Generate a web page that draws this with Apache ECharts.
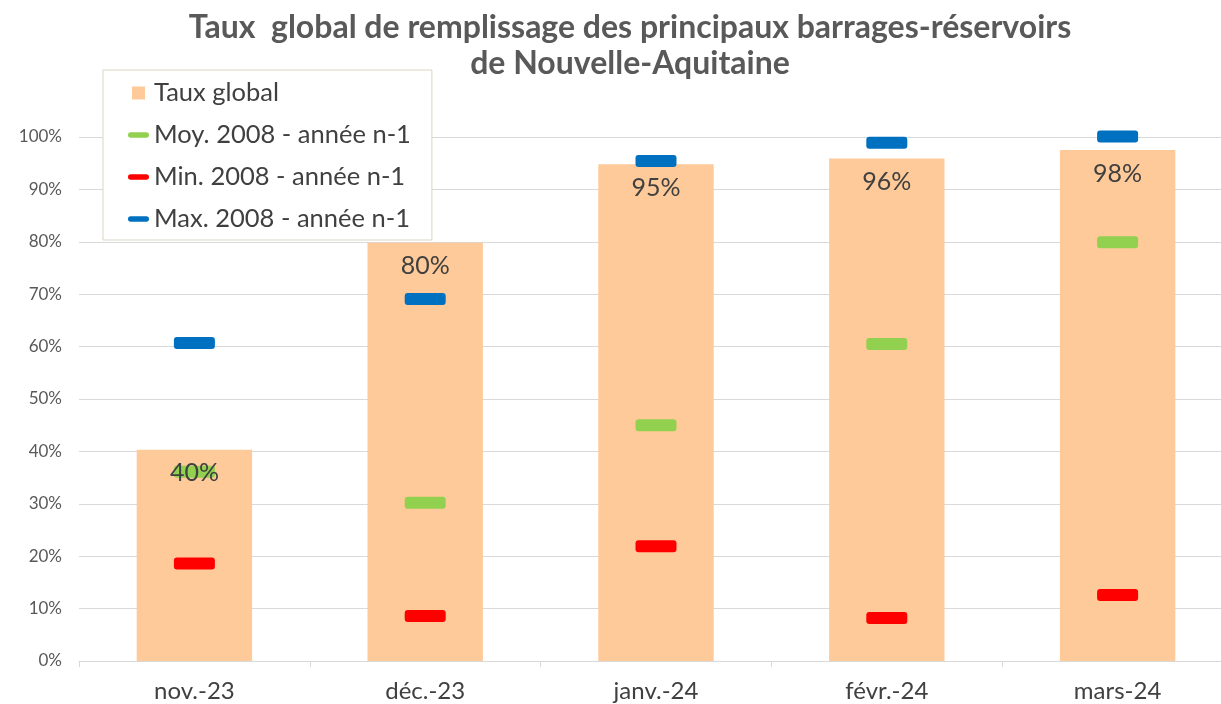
<!DOCTYPE html>
<html>
<head>
<meta charset="utf-8">
<script src="https://cdn.jsdelivr.net/npm/echarts@6/dist/echarts.min.js"></script>
<style>
html,body{margin:0;padding:0;background:#fff;}
#chart{width:1221px;height:704px;}
</style>
</head>
<body>
<div id="chart"></div>
<script>
const categories = ['nov.-23', 'déc.-23', 'janv.-24', 'févr.-24', 'mars-24'];
const tauxGlobal = [40.3, 79.8, 94.8, 95.9, 97.5];
const moyenne = [36.1, 30.2, 45.0, 60.5, 79.9];
const minimum = [18.6, 8.6, 21.9, 8.2, 12.6];
const maximum = [60.7, 69.1, 95.4, 98.9, 100.1];
const yTicks = [0, 10, 20, 30, 40, 50, 60, 70, 80, 90, 100];

const textColor = '#404040';
const font = 'Lato, "Open Sans", sans-serif';

const chart = echarts.init(document.getElementById('chart'), null, {renderer: 'canvas'});

const markerPath = 'path://M3,0h35a3,3 0 0 1 3,3v6a3,3 0 0 1 -3,3h-35a3,3 0 0 1 -3,-3v-6a3,3 0 0 1 3,-3z';
const legendLine = 'path://M0,0M2,3.5h17a2.5,2.5 0 0 1 0,6h-17a2.5,2.5 0 0 1 0,-6zM21,13';

function marker(name, data, color) {
  return {
    name: name,
    type: 'scatter',
    data: data,
    symbol: markerPath,
    symbolSize: [41, 12],
    clip: false,
    z: 4,
    itemStyle: {color: color, opacity: 1},
    emphasis: {disabled: true}
  };
}

const option = {
  backgroundColor: '#fff',
  animation: false,
  textStyle: {fontFamily: font},
  title: {
    text: 'Taux  global de remplissage des principaux barrages-réservoirs\nde Nouvelle-Aquitaine',
    left: 630,
    textAlign: 'center',
    top: 10,
    padding: 0,
    textStyle: {
      fontFamily: font,
      fontSize: 32,
      fontWeight: 'bold',
      color: '#595959',
      lineHeight: 36
    }
  },
  legend: {
    orient: 'vertical',
    left: 103,
    top: 70,
    backgroundColor: '#fff',
    borderColor: '#d9d5c3',
    borderWidth: 1,
    borderRadius: 0,
    padding: [10, 21, 8, 25],
    itemGap: 16,
    itemWidth: 21,
    itemHeight: 13,
    textStyle: {fontFamily: font, fontSize: 25.5, color: textColor},
    selectedMode: false,
    data: [
      {name: 'Taux global', icon: 'path://M0,0M4,0h13v13h-13zM21,13'},
      {name: 'Moy. 2008 - année n-1', icon: legendLine},
      {name: 'Min. 2008 - année n-1', icon: legendLine},
      {name: 'Max. 2008 - année n-1', icon: legendLine}
    ]
  },
  grid: {left: 79, width: 1154, top: 137, bottom: 43, containLabel: false, outerBoundsMode: 'none'},
  xAxis: {
    type: 'category',
    data: categories,
    axisLine: {lineStyle: {color: '#d9d9d9', width: 1}},
    axisTick: {show: true, length: 6, lineStyle: {color: '#d9d9d9'}},
    axisLabel: {fontFamily: font, fontSize: 24, color: textColor, margin: 18}
  },
  yAxis: {
    type: 'value',
    min: 0,
    max: 100,
    interval: 10,
    axisLine: {show: false},
    axisTick: {show: false},
    splitLine: {lineStyle: {color: '#d9d9d9', width: 1}},
    axisLabel: {
      fontFamily: font, fontSize: 17, color: '#595959', margin: 17,
      formatter: function (v) { return yTicks.indexOf(v) >= 0 ? v + '%' : ''; }
    }
  },
  series: [
    {
      name: 'Taux global',
      type: 'bar',
      data: tauxGlobal,
      barWidth: '50%',
      z: 2,
      itemStyle: {color: '#ffca99'},
      emphasis: {disabled: true}
    },
    marker('Moy. 2008 - année n-1', moyenne, '#92d050'),
    marker('Min. 2008 - année n-1', minimum, '#ff0000'),
    marker('Max. 2008 - année n-1', maximum, '#0070c0'),
    {
      name: 'labels',
      type: 'bar',
      data: tauxGlobal,
      barWidth: '50%',
      barGap: '-100%',
      z: 6,
      silent: true,
      itemStyle: {color: 'rgba(0,0,0,0)'},
      label: {
        show: true,
        position: 'insideTop',
        distance: 11,
        fontFamily: font,
        fontSize: 25,
        color: textColor,
        formatter: function (p) { return Math.round(p.value) + '%'; }
      },
      emphasis: {disabled: true}
    }
  ]
};

chart.setOption(option);
</script>
</body>
</html>
